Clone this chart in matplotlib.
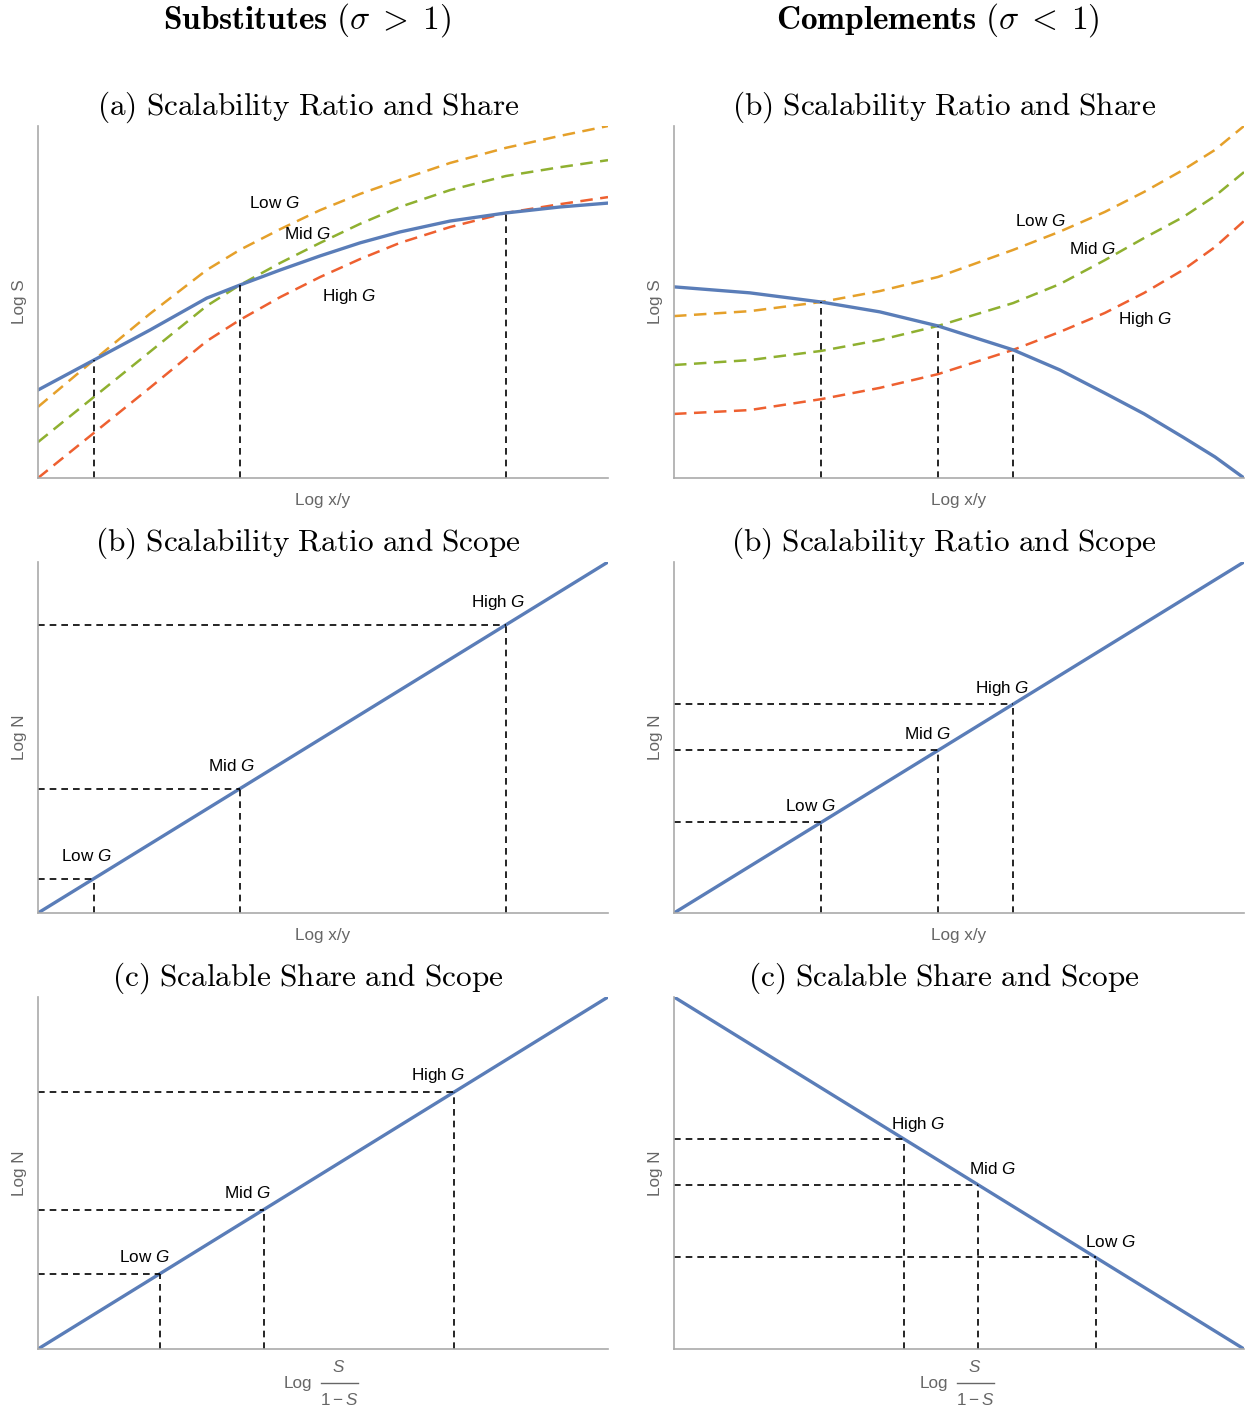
"""Six schematic panels: scalability ratio, share and scope for substitutes vs complements."""

import matplotlib

matplotlib.use("Agg")
import matplotlib.pyplot as plt
import numpy as np
from matplotlib.lines import Line2D

plt.rcParams["font.family"] = ["Liberation Sans", "DejaVu Sans"]
plt.rcParams["mathtext.fontset"] = "custom"
plt.rcParams["mathtext.rm"] = "Liberation Sans"
plt.rcParams["mathtext.it"] = "Liberation Sans:italic"

BLUE = "#5a7db8"
ORANGE = "#e5a02a"
GREEN = "#8fb030"
RED = "#ee6030"
SPINE = "#aaaaaa"
LABEL_GRAY = "#666666"

# ---- data (schematic units, 0..10 on both axes) ----
# Substitutes, panel (a): Log S vs Log x/y
sub_x = [0.0, 0.98, 1.96, 2.96, 3.54, 4.25, 4.95, 5.65, 6.35, 7.23, 8.21, 9.16, 10.0]
sub_ratio = [2.50, 3.35, 4.20, 5.11, 5.48, 5.91, 6.31, 6.68, 6.99, 7.30, 7.53, 7.70, 7.81]
sub_low = [2.02, 3.35, 4.66, 5.91, 6.48, 7.07, 7.61, 8.07, 8.47, 8.95, 9.38, 9.72, 10.0]
sub_mid = [1.02, 2.30, 3.58, 4.89, 5.48, 6.11, 6.68, 7.22, 7.70, 8.18, 8.58, 8.83, 9.03]
sub_high = [0.0, 1.28, 2.56, 3.89, 4.49, 5.14, 5.71, 6.22, 6.68, 7.13, 7.53, 7.78, 7.98]
sub_cross_x = [0.98, 3.54, 8.21]
sub_cross_y = [3.35, 5.48, 7.53]

# Complements, panel (a): Log S vs Log x/y
com_x = [0.0, 1.33, 2.58, 3.61, 4.63, 5.95, 6.77, 7.56, 8.25, 8.93, 9.49, 10.0]
com_ratio = [5.43, 5.26, 5.00, 4.72, 4.32, 3.64, 3.07, 2.41, 1.82, 1.16, 0.60, 0.0]
com_low = [4.60, 4.74, 5.00, 5.31, 5.71, 6.48, 7.00, 7.56, 8.13, 8.75, 9.32, 10.0]
com_mid = [3.21, 3.35, 3.61, 3.92, 4.32, 4.97, 5.51, 6.19, 6.82, 7.41, 8.01, 8.69]
com_high = [1.82, 1.93, 2.24, 2.56, 2.95, 3.64, 4.15, 4.69, 5.26, 5.91, 6.56, 7.30]
com_cross_x = [2.58, 4.63, 5.95]
com_cross_y = [5.00, 4.32, 3.64]

# Panel (b): Log N vs Log x/y, straight line through the G points
scope_line_x = [0.0, 10.0]
scope_line_y = [0.0, 10.0]
sub_scope_x = [0.98, 3.54, 8.21]
com_scope_x = [2.58, 4.63, 5.95]

# Panel (c): Log N vs Log S/(1-S)
share_sub_line_y = [0.0, 10.0]
share_com_line_y = [10.0, 0.0]
sub_share_x = [2.14, 3.96, 7.30]
com_share_x = [4.04, 5.33, 7.40]

g_names = ["Low", "Mid", "High"]
com_share_names = ["High", "Mid", "Low"]

FS_LAB = 12.3


def style_axes(ax, xlabel, ylabel, xpad=11):
    ax.set_xlim(0, 10)
    ax.set_ylim(0, 10)
    for side in ("top", "right"):
        ax.spines[side].set_visible(False)
    for side in ("left", "bottom"):
        ax.spines[side].set_color(SPINE)
        ax.spines[side].set_linewidth(1.2)
    ax.set_xticks([])
    ax.set_yticks([])
    if xlabel:
        ax.set_xlabel(xlabel, fontsize=FS_LAB, color=LABEL_GRAY, labelpad=xpad)
    ax.set_ylabel(ylabel, fontsize=FS_LAB, color=LABEL_GRAY, labelpad=8)


def share_label(ax):
    # "Log S / (1 - S)" written as a stacked fraction below the axis
    kw = dict(transform=ax.transAxes, fontsize=FS_LAB, color=LABEL_GRAY,
              ha="center", va="center", clip_on=False)
    ax.text(0.456, -0.097, "Log", **kw)
    ax.text(0.528, -0.051, "$S$", **kw)
    ax.text(0.528, -0.145, r"$1 - S$", **kw)
    ax.add_line(Line2D([0.496, 0.561], [-0.097, -0.097], transform=ax.transAxes,
                       color=LABEL_GRAY, lw=1.0, clip_on=False))


def title(ax, text):
    ax.set_title(text, fontsize=22.5, math_fontfamily="cm", pad=8, x=0.474)


def gtext(ax, x, y, name, dx, dy):
    ax.text(x + dx, y + dy, f"{name} $G$", fontsize=FS_LAB, ha="center", va="center")


def dashed_v(ax, x, y):
    ax.plot([x, x], [0, y], ls=(0, (4, 3)), color="black", lw=1.2)


def dashed_h(ax, x, y):
    ax.plot([0, x], [y, y], ls=(0, (4, 3)), color="black", lw=1.2)


fig = plt.figure(figsize=(12.48, 14.09), dpi=100)
W, H = 1248.0, 1409.0


def make_axes(left, top, right, bottom):
    return fig.add_axes([left / W, 1 - bottom / H, (right - left) / W, (bottom - top) / H])


cols = [(38, 608), (674, 1244)]
rows = [(126, 478), (562, 913), (997, 1349)]
axs = [[make_axes(c[0], r[0], c[1], r[1]) for c in cols] for r in rows]

xy_lab = "Log x/y"
dash_col = (0, (5, 3))

# Row 1 left
ax = axs[0][0]
style_axes(ax, xy_lab, "Log S")
title(ax, r"$\mathrm{(a)\ Scalability\ Ratio\ and\ Share}$")
for ys, c in ((sub_low, ORANGE), (sub_mid, GREEN), (sub_high, RED)):
    ax.plot(sub_x, ys, color=c, lw=1.8, ls=dash_col)
ax.plot(sub_x, sub_ratio, color=BLUE, lw=2.4)
for x, y in zip(sub_cross_x, sub_cross_y):
    dashed_v(ax, x, y)
ax.text(4.15, 7.8, "Low $G$", fontsize=FS_LAB, ha="center", va="center")
ax.text(4.72, 6.92, "Mid $G$", fontsize=FS_LAB, ha="center", va="center")
ax.text(5.46, 5.16, "High $G$", fontsize=FS_LAB, ha="center", va="center")

# Row 1 right
ax = axs[0][1]
style_axes(ax, xy_lab, "Log S")
title(ax, r"$\mathrm{(b)\ Scalability\ Ratio\ and\ Share}$")
for ys, c in ((com_low, ORANGE), (com_mid, GREEN), (com_high, RED)):
    ax.plot(com_x, ys, color=c, lw=1.8, ls=dash_col)
ax.plot(com_x, com_ratio, color=BLUE, lw=2.4)
for x, y in zip(com_cross_x, com_cross_y):
    dashed_v(ax, x, y)
ax.text(6.42, 7.30, "Low $G$", fontsize=FS_LAB, ha="center", va="center")
ax.text(7.35, 6.50, "Mid $G$", fontsize=FS_LAB, ha="center", va="center")
ax.text(8.26, 4.49, "High $G$", fontsize=FS_LAB, ha="center", va="center")

# Row 2
for j, (xs, dx, dy) in enumerate(((sub_scope_x, -0.14, 0.65), (com_scope_x, -0.19, 0.46))):
    ax = axs[1][j]
    style_axes(ax, xy_lab, "Log N")
    title(ax, r"$\mathrm{(b)\ Scalability\ Ratio\ and\ Scope}$")
    ax.plot(scope_line_x, scope_line_y, color=BLUE, lw=2.4)
    ys = np.interp(xs, scope_line_x, scope_line_y)
    for x, y, g in zip(xs, ys, g_names):
        dashed_h(ax, x, y)
        dashed_v(ax, x, y)
        gtext(ax, x, y, g, dx, dy)

# Row 3 left
ax = axs[2][0]
style_axes(ax, None, "Log N")
share_label(ax)
title(ax, r"$\mathrm{(c)\ Scalable\ Share\ and\ Scope}$")
ax.plot(scope_line_x, share_sub_line_y, color=BLUE, lw=2.4)
ys = np.interp(sub_share_x, scope_line_x, share_sub_line_y)
for x, y, g in zip(sub_share_x, ys, g_names):
    dashed_h(ax, x, y)
    dashed_v(ax, x, y)
    gtext(ax, x, y, g, dx=-0.28, dy=0.46)

# Row 3 right
ax = axs[2][1]
style_axes(ax, None, "Log N")
share_label(ax)
title(ax, r"$\mathrm{(c)\ Scalable\ Share\ and\ Scope}$")
ax.plot(scope_line_x, share_com_line_y, color=BLUE, lw=2.4)
ys = np.interp(com_share_x, scope_line_x, share_com_line_y)
for x, y, g in zip(com_share_x, ys, com_share_names):
    dashed_h(ax, x, y)
    dashed_v(ax, x, y)
    gtext(ax, x, y, g, dx=0.25, dy=0.43)

fig.text(307 / W, 1 - 20 / H, r"$\mathbf{Substitutes}\ (\sigma\;>\;1)$", fontsize=24,
         math_fontfamily="cm", ha="center", va="center")
fig.text(938 / W, 1 - 20 / H, r"$\mathbf{Complements}\ (\sigma\;<\;1)$", fontsize=24,
         math_fontfamily="cm", ha="center", va="center")

fig.savefig("out.png", dpi=100)
